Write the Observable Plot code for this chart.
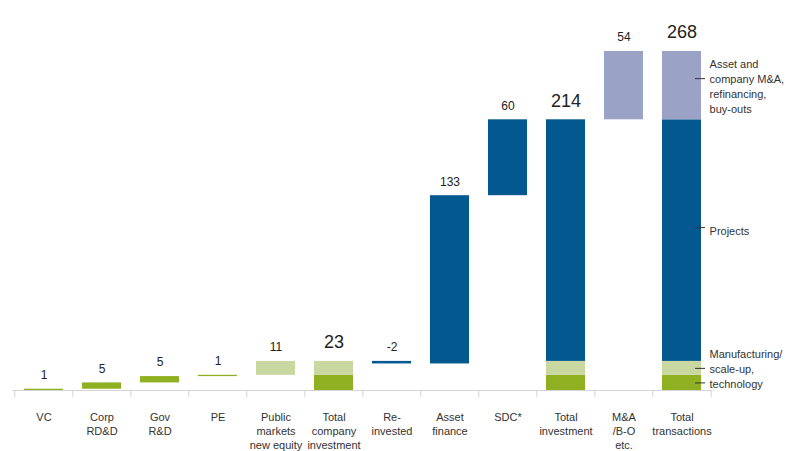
<!DOCTYPE html>
<html>
<head>
<meta charset="utf-8">
<script src="https://cdn.jsdelivr.net/npm/d3@7"></script>
<script src="https://cdn.jsdelivr.net/npm/@observablehq/plot@0.6"></script>
<style>
  html, body { margin: 0; padding: 0; background: #fff; }
</style>
</head>
<body>
<div id="chart"></div>
<script>
// ---- data ----
const categories = ["VC", "Corp\nRD&D", "Gov\nR&D", "PE", "Public\nmarkets\nnew equity",
  "Total\ncompany\ninvestment", "Re-\ninvested", "Asset\nfinance", "SDC*",
  "Total\ninvestment", "M&A\n/B-O\netc.", "Total\ntransactions"];
const values = [1, 5, 5, 1, 11, 23, -2, 133, 60, 214, 54, 268];
const stepKinds = ["Technology", "Technology", "Technology", "Technology", "Manufacturing",
  null, "Projects", "Projects", "Projects", null, "M&A", null];
const totalParts = {
  5: ["Technology", "Manufacturing"],
  9: ["Technology", "Manufacturing", "Projects"],
  11: ["Technology", "Manufacturing", "Projects", "M&A"]
};
const kinds = ["Technology", "Manufacturing", "Projects", "M&A"];
const kindColors = ["#8fb021", "#c9d7a1", "#03588f", "#9aa3c6"];
const annotations = [
  {kind: "M&A", label: "Asset and\ncompany M&A,\nrefinancing,\nbuy-outs", textDy: 0, tickDy: -7},
  {kind: "Projects", label: "Projects", textDy: -10, tickDy: -13},
  {kind: "Manufacturing", label: "Manufacturing/\nscale-up,\ntechnology", textDy: 0, tickDy: 0},
  {kind: "Technology", label: null, textDy: 0, tickDy: 0}
];

// ---- build segments ----
const kindTotals = {};
values.forEach((v, i) => { if (stepKinds[i]) kindTotals[stepKinds[i]] = (kindTotals[stepKinds[i]] || 0) + v; });
const segments = [];
const labels = [];
let cum = 0;
values.forEach((v, i) => {
  const cat = categories[i];
  if (stepKinds[i]) {
    segments.push({cat, kind: stepKinds[i], y1: cum, y2: cum + v});
    labels.push({cat, value: v, top: Math.max(cum, cum + v), total: false});
    cum += v;
  } else {
    let base = 0;
    for (const k of totalParts[i]) {
      segments.push({cat, kind: k, y1: base, y2: base + kindTotals[k]});
      base += kindTotals[k];
    }
    labels.push({cat, value: v, top: base, total: true});
  }
});
const lastCat = categories[categories.length - 1];
const lastSegs = segments.filter(d => d.cat === lastCat);

// ---- layout ----
const W = 811, H = 451;
const mL = 12, mR = 99, mT = 51, mB = 61;
const step = (W - mL - mR) / categories.length;
const padInner = 0.33;
const bw = step * (1 - padInner);
const font = "'Liberation Sans', Arial, Helvetica, sans-serif";

const marks = [
  Plot.ruleY([0], {stroke: "#d4d4d4", strokeWidth: 1.2}),
  Plot.ruleX(categories, {x: d => d, y1: 0, y2: 0, dx: -step / 2, insetBottom: -7, stroke: "#d4d4d4"}),
  Plot.ruleX([lastCat], {x: d => d, y1: 0, y2: 0, dx: step / 2, insetBottom: -7, stroke: "#d4d4d4"}),
  Plot.rectY(segments, {x: "cat", y1: "y1", y2: "y2", fill: "kind"}),
  Plot.text(labels.filter(d => !d.total), {x: "cat", y: "top", text: d => String(d.value), dy: -14, fontSize: 12, fill: "#222"}),
  Plot.text(labels.filter(d => d.total), {x: "cat", y: "top", text: d => String(d.value), dy: -19, fontSize: 18, fill: "#222"}),
  Plot.axisX({tickSize: 0, tickPadding: 20, fontSize: 11, lineHeight: 1.3, fill: "#333", tickFormat: d => d, label: null})
];
for (const a of annotations) {
  const s = lastSegs.find(d => d.kind === a.kind);
  const mid = (s.y1 + s.y2) / 2;
  marks.push(Plot.tickY([mid], {x: () => lastCat, y: d => d, dy: a.tickDy, insetLeft: bw - 6, insetRight: -4, stroke: "#333", strokeWidth: 1}));
  if (a.label) {
    marks.push(Plot.text([mid], {x: () => lastCat, y: d => d, dy: a.textDy, dx: bw / 2 + 8, text: () => a.label,
      textAnchor: "start", fontSize: 11, lineHeight: 1.36, fill: "#333"}));
  }
}

const chart = Plot.plot({
  width: W, height: H,
  marginLeft: mL, marginRight: mR, marginTop: mT, marginBottom: mB,
  style: {fontFamily: font, background: "#fff", overflow: "visible"},
  x: {type: "band", domain: categories, paddingInner: padInner, paddingOuter: padInner / 2, axis: null, label: null},
  y: {domain: [0, 268], axis: null, label: null},
  color: {domain: kinds, range: kindColors},
  marks
});
document.getElementById("chart").appendChild(chart);
</script>
</body>
</html>
